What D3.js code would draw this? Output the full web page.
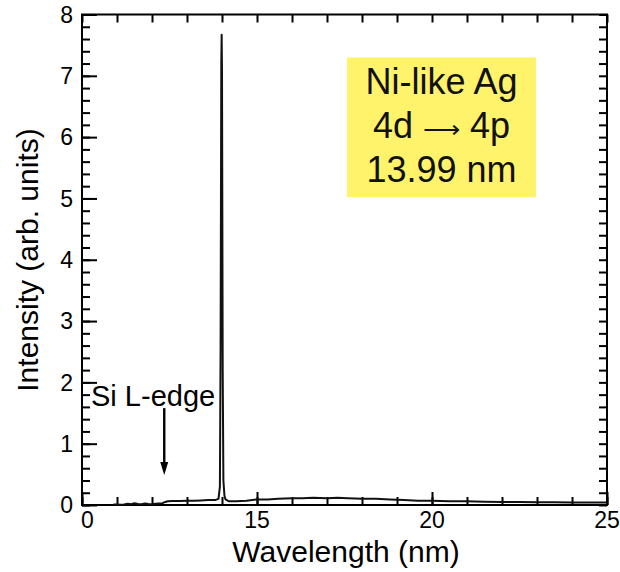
<!DOCTYPE html>
<html>
<head>
<meta charset="utf-8">
<script src="https://cdn.jsdelivr.net/npm/d3@7"></script>
<style>
  html, body { margin: 0; padding: 0; background: #fff; }
  svg { display: block; font-family: "Liberation Sans", Arial, Helvetica, sans-serif; }
</style>
</head>
<body>
<svg id="chart" width="620" height="572"></svg>
<script>
// Ni-like Ag soft x-ray laser spectrum
const wavelength = [10.90, 11.00, 11.10, 11.20, 11.30, 11.40, 11.50, 11.60, 11.70, 11.80, 11.90, 12.00, 12.10, 12.20, 12.30,
  12.38, 12.45, 12.60, 12.80, 13.00, 13.20, 13.40, 13.60, 13.80, 13.90, 13.94, 13.96, 13.98, 13.99, 14.00, 14.02, 14.04, 14.07, 14.10,
  14.20, 14.40, 14.70, 15.00, 15.30, 15.60, 16.00, 16.30, 16.60, 17.00, 17.30, 17.60, 18.00, 18.40, 18.80, 19.20, 19.60,
  20.00, 20.50, 21.00, 21.50, 22.00, 22.50, 23.00, 23.50, 24.00, 24.50, 25.00];
const intensity = [0.01, 0.01, 0.005, 0.01, 0.02, 0.012, 0.028, 0.018, 0.012, 0.026, 0.016, 0.012, 0.022, 0.026, 0.03,
  0.05, 0.06, 0.065, 0.065, 0.07, 0.07, 0.075, 0.08, 0.08, 0.10, 0.30, 2.60, 7.20, 7.67, 7.10, 2.20, 0.40, 0.15, 0.09,
  0.06, 0.06, 0.07, 0.09, 0.09, 0.10, 0.11, 0.11, 0.12, 0.11, 0.12, 0.11, 0.10, 0.10, 0.09, 0.08, 0.07,
  0.07, 0.06, 0.06, 0.055, 0.05, 0.05, 0.045, 0.045, 0.04, 0.04, 0.04];

// Axis ticks and labels
const xMajorTicks = [10, 15, 20, 25];
const xTickLabels = ["0", "15", "20", "25"];
const xMinorTicks = d3.range(10, 25.001, 1);
const yMajorTicks = [0, 1, 2, 3, 4, 5, 6, 7, 8];
const yMinorTicks = d3.range(0, 8.001, 0.2);

// Annotations
const edgeLabel = "Si L-edge";
const edgeWavelength = 12.35;
const boxLines = [["Ni-like Ag"], ["4d ", "\u27F6", " 4p"], ["13.99 nm"]];

const svg = d3.select("#chart");
const plotLeft = 82, plotRight = 607, plotTop = 14.5, plotBottom = 505;

const x = d3.scaleLinear().domain([10, 25]).range([plotLeft, plotRight]);
const y = d3.scaleLinear().domain([0, 8]).range([plotBottom, plotTop]);

const ink = "#000";

// Tick marks, pointing inward on all four sides
function ticks(axisFn, scale, values, size, translate) {
  const g = svg.append("g")
    .attr("transform", translate)
    .call(axisFn(scale).tickValues(values).tickSize(size).tickFormat(""));
  g.select(".domain").remove();
  g.selectAll(".tick line").attr("stroke", ink).attr("stroke-width", 2);
  return g;
}
ticks(d3.axisBottom, x, xMinorTicks, -8, `translate(0,${plotBottom})`);
ticks(d3.axisBottom, x, xMajorTicks, -13, `translate(0,${plotBottom})`);
ticks(d3.axisTop, x, xMinorTicks, -8, `translate(0,${plotTop})`);
ticks(d3.axisLeft, y, yMinorTicks, -8, `translate(${plotLeft},0)`);
ticks(d3.axisLeft, y, yMajorTicks, -15, `translate(${plotLeft},0)`);
ticks(d3.axisRight, y, yMinorTicks, -8, `translate(${plotRight},0)`);

// Frame
svg.append("rect")
  .attr("x", plotLeft).attr("y", plotTop)
  .attr("width", plotRight - plotLeft).attr("height", plotBottom - plotTop)
  .attr("fill", "none").attr("stroke", ink).attr("stroke-width", 2);

// Tick labels
svg.append("g").selectAll("text")
  .data(xMajorTicks)
  .join("text")
  .attr("x", (d, i) => i === 0 ? x(d) - 1 : x(d))
  .attr("y", plotBottom + 23)
  .attr("text-anchor", (d, i) => i === 0 ? "start" : "middle")
  .attr("font-size", 23)
  .attr("fill", ink)
  .text((d, i) => xTickLabels[i]);

svg.append("g").selectAll("text")
  .data(yMajorTicks)
  .join("text")
  .attr("x", plotLeft - 9)
  .attr("y", d => y(d))
  .attr("dy", "0.36em")
  .attr("text-anchor", "end")
  .attr("font-size", 23)
  .attr("fill", ink)
  .text(d => d);

// Axis titles
svg.append("text")
  .attr("x", 346).attr("y", 562)
  .attr("text-anchor", "middle")
  .attr("font-size", 30)
  .attr("fill", ink)
  .text("Wavelength (nm)");

svg.append("text")
  .attr("transform", "translate(38,260) rotate(-90)")
  .attr("text-anchor", "middle")
  .attr("font-size", 30)
  .attr("fill", ink)
  .text("Intensity (arb. units)");

// Spectrum
const line = d3.line().x((d, i) => x(wavelength[i])).y(d => y(d));
svg.append("path")
  .datum(intensity)
  .attr("d", line)
  .attr("fill", "none")
  .attr("stroke", "#111")
  .attr("stroke-width", 2)
  .attr("stroke-linejoin", "round");

// Si L-edge marker
const ax = x(edgeWavelength);
svg.append("line")
  .attr("x1", ax).attr("x2", ax)
  .attr("y1", y(1.58)).attr("y2", y(0.49) - 10)
  .attr("stroke", ink).attr("stroke-width", 2.4);
svg.append("path")
  .attr("d", `M${ax - 4},${y(0.49) - 13} L${ax + 4},${y(0.49) - 13} L${ax},${y(0.49)} Z`)
  .attr("fill", ink);
svg.append("text")
  .attr("x", 91).attr("y", 406)
  .attr("font-size", 29)
  .attr("fill", ink)
  .text(edgeLabel);

// Line identification box
const bx0 = x(17.57), bx1 = x(22.97), by0 = y(7.30), by1 = y(5.02);
svg.append("rect")
  .attr("x", bx0).attr("y", by0)
  .attr("width", bx1 - bx0).attr("height", by1 - by0)
  .attr("fill", "#fff36b");
const boxText = svg.append("g").selectAll("text")
  .data(boxLines)
  .join("text")
  .attr("x", (bx0 + bx1) / 2)
  .attr("y", (d, i) => 94 + i * 44)
  .attr("text-anchor", "middle")
  .attr("font-size", 36)
  .attr("fill", "#111");
boxText.selectAll("tspan")
  .data(d => d)
  .join("tspan")
  .attr("font-family", t => t === "\u27F6" ? "'DejaVu Sans', sans-serif" : null)
  .attr("font-weight", t => t === "\u27F6" ? 200 : null)
  .attr("font-size", t => t === "\u27F6" ? 26 : null)
  .text(t => t);
</script>
</body>
</html>
